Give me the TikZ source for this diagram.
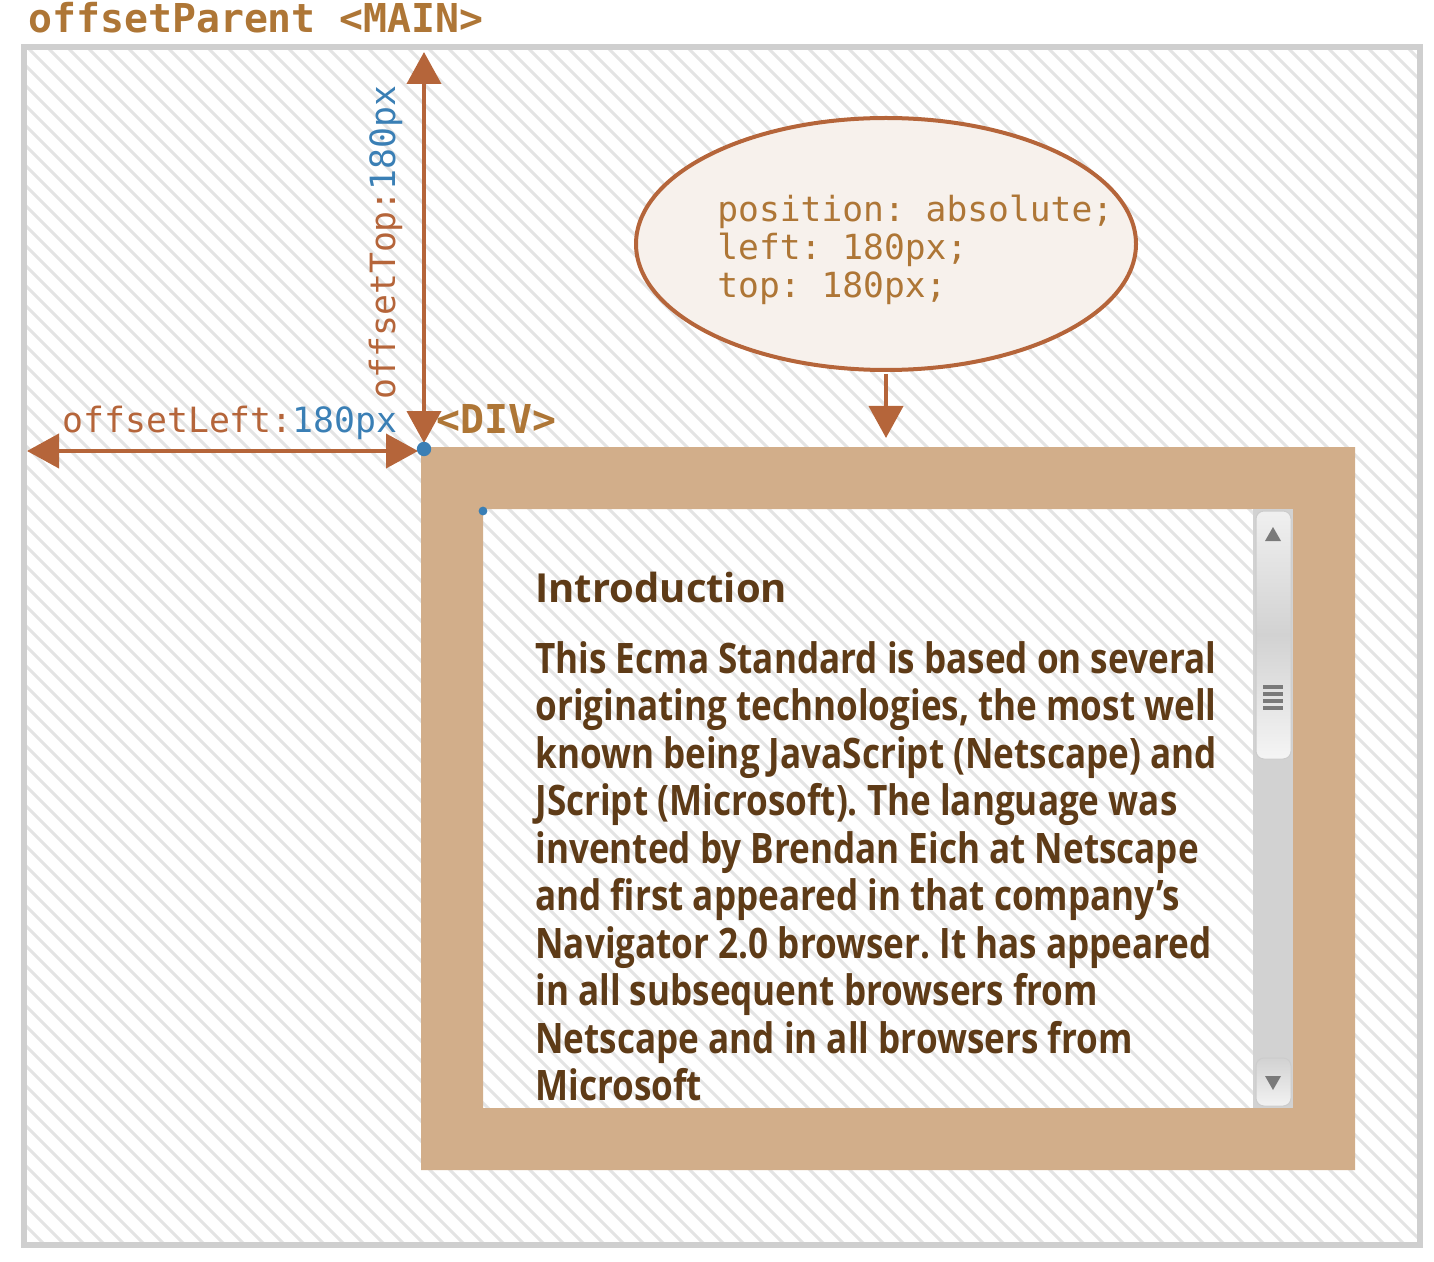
\documentclass[tikz,border=0pt]{standalone}
\usepackage{fontspec}
\setmonofont{DejaVu Sans Mono}
\newfontfamily\bodyfont[FakeStretch=0.835]{Open Sans}
\newfontfamily\headfont{Open Sans}
\usetikzlibrary{arrows.meta, shapes.geometric, positioning}
\frenchspacing

\definecolor{titlec}{HTML}{AE7636}
\definecolor{arrowc}{HTML}{B5653A}
\definecolor{bluec}{HTML}{3A7FB5}
\definecolor{divtan}{HTML}{D2AE8A}
\definecolor{bodyc}{HTML}{5E3B17}
\definecolor{ellfill}{HTML}{F7F1EC}
\definecolor{framec}{HTML}{CFCFCF}
\definecolor{hatchc}{HTML}{E4E4E4}
\definecolor{trackc}{HTML}{D2D2D2}
\definecolor{knobc}{HTML}{7A7A7A}

\tikzset{
	dimarrow/.style={draw=arrowc, line width=2pt, {Triangle[length=16pt,width=17pt]}-{Triangle[length=16pt,width=17pt]}},
	downarrow/.style={draw=arrowc, line width=2pt, -{Triangle[length=16pt,width=17pt]}},
	monolabel/.style={font=\fontsize{17.4}{19}\selectfont\ttfamily, inner sep=0pt, anchor=base west},
	tagtext/.style={font=\fontsize{19.9}{23}\selectfont\ttfamily\bfseries, text=titlec, inner sep=0pt, anchor=base west},
	hatch/.style={draw=hatchc, line width=1.5pt}
}

\begin{document}
\begin{tikzpicture}[x=0.5pt, y=-0.5pt]
	\useasboundingbox (0,0) rectangle (1434,1262);

% hatched main
	\begin{scope}
		\clip (24,47) rectangle (1420,1245);
		\foreach \k in {-1300,-1280,...,1434}
			\draw[hatch] (\k,0) -- ++(1300,1300);
	\end{scope}
	\draw[framec, line width=2.6pt] (24,47) rectangle (1420,1245);
	\node[tagtext] (maintitle) at (28,33) {offsetParent <MAIN>};

% div frame
	\fill[divtan, even odd rule] (421,447) rectangle (1355,1170) (483,509) rectangle (1293,1108);

	% scrollbar
	\fill[trackc] (1253,509) rectangle (1293,1108);
	\shade[top color=white!94!black, bottom color=white!96!black, middle color=trackc, rounded corners=4pt, draw=white!80!black, line width=0.5pt] (1256,511) rectangle (1291,759);
	\shade[top color=trackc, bottom color=white!95!black, rounded corners=4pt, draw=white!80!black, line width=0.5pt] (1256,1058) rectangle (1291,1106);
	\fill[knobc] (1273,527) -- (1281,541) -- (1265,541) -- cycle;
	\fill[knobc] (1273,1090) -- (1281,1076) -- (1265,1076) -- cycle;
	\foreach \g in {685,692,699,706}
		\fill[knobc] (1263,\g) rectangle (1283,\g+4);

	% text inside
	\node[font=\headfont\bfseries\fontsize{20}{23.75}\selectfont, text=bodyc, inner sep=0pt, anchor=base west] (introhead) at (535,602) {Introduction};
	\node[font=\bodyfont\bfseries\fontsize{21}{23.75}\selectfont, text=bodyc, inner sep=0pt, align=left, anchor=north west] (introbody) at (535,641) {This Ecma Standard is based on several\\
originating technologies, the most well\\
known being JavaScript (Netscape) and\\
JScript (Microsoft). The language was\\
invented by Brendan Eich at Netscape\\
and first appeared in that company’s\\
Navigator 2.0 browser. It has appeared\\
in all subsequent browsers from\\
Netscape and in all browsers from\\
Microsoft};

	\node[tagtext] (divtag) at (436,433) {<DIV>};

% css note
	\node[ellipse, draw=arrowc, line width=2pt, fill=ellfill, minimum width=250pt, minimum height=126pt, inner sep=0pt] (cssnote) at (886,244) {};
	\node[font=\fontsize{17.3}{19}\selectfont\ttfamily, text=titlec, inner sep=0pt, align=left, anchor=base west] (csstext) at (717,298) {position: absolute;\\left: 180px;\\top: 180px;};
	\coordinate (divtop) at (886,438);
	\draw[downarrow] ([yshift=-1pt]cssnote.south) -- (divtop);

% offsets
	\coordinate (divcorner) at (424,449);
	\coordinate (maintop) at (424,52);
	\coordinate (cornerup) at (424,443);
	\coordinate (mainleft) at (27,451);
	\coordinate (cornerleft) at (418,451);

	\draw[dimarrow] (maintop) -- (cornerup);
	\draw[dimarrow] (mainleft) -- (cornerleft);

	\node[monolabel] (leftlabel) at (62,432) {\textcolor{arrowc}{offsetLeft:}\textcolor{bluec}{180px}};
	\node[monolabel, rotate=90] (toplabel) at (395,400) {\textcolor{arrowc}{offsetTop:}\textcolor{bluec}{180px}};

	\fill[bluec] (divcorner) circle (3.6pt);
	\fill[bluec] (483,511) circle (2.2pt);

\end{tikzpicture}
\end{document}
